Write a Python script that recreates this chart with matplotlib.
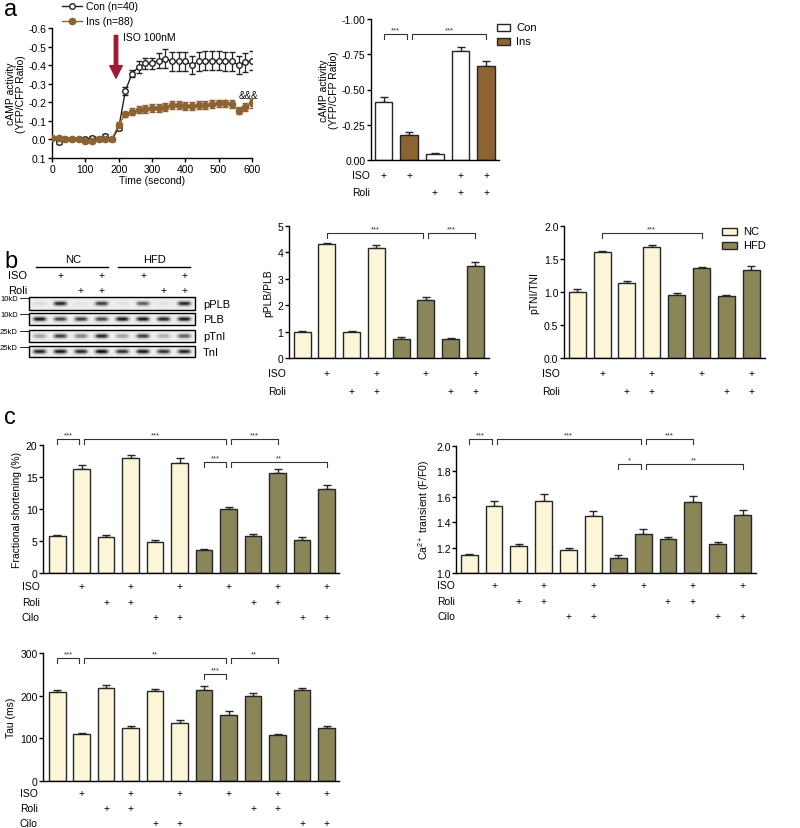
import numpy as np
import matplotlib.pyplot as plt
import matplotlib.transforms as mtransforms
from matplotlib.patches import Rectangle

plt.rcParams['font.family'] = ['Liberation Sans', 'DejaVu Sans']
plt.rcParams['mathtext.default'] = 'regular'
plt.rcParams['font.size'] = 7
plt.rcParams['axes.linewidth'] = 1.0
plt.rcParams['xtick.labelsize'] = 7.5
plt.rcParams['ytick.labelsize'] = 7.5

# ---------------- data ----------------
time_s = [0, 20, 40, 60, 80, 100, 120, 140, 160, 180, 200, 220, 240, 260, 280, 300,
          320, 340, 360, 380, 400, 420, 440, 460, 480, 500, 520, 540, 560, 580, 600]
con_camp = [-0.01, 0.015, -0.005, -0.005, 0.0, 0.0, -0.01, -0.005, -0.02, 0.0, -0.06,
            -0.26, -0.355, -0.39, -0.41, -0.41, -0.425, -0.435, -0.42, -0.42, -0.42,
            -0.40, -0.42, -0.425, -0.425, -0.425, -0.42, -0.42, -0.40, -0.415, -0.425]
con_err = [0.005, 0.01, 0.005, 0.005, 0.005, 0.005, 0.01, 0.01, 0.01, 0.01, 0.01,
           0.02, 0.02, 0.03, 0.03, 0.03, 0.04, 0.05, 0.05, 0.05, 0.05, 0.05, 0.05,
           0.05, 0.05, 0.05, 0.05, 0.05, 0.05, 0.05, 0.05]
ins_camp = [-0.01, -0.01, 0.0, 0.0, -0.005, 0.01, 0.01, 0.0, 0.0, 0.0, -0.08,
            -0.135, -0.15, -0.16, -0.165, -0.17, -0.17, -0.175, -0.185, -0.185, -0.18,
            -0.18, -0.185, -0.185, -0.19, -0.195, -0.195, -0.19, -0.155, -0.175, -0.195]
ins_err = [0.01, 0.01, 0.01, 0.01, 0.01, 0.01, 0.01, 0.01, 0.01, 0.01, 0.015,
           0.015, 0.02, 0.02, 0.02, 0.02, 0.02, 0.02, 0.02, 0.02, 0.02, 0.02, 0.02,
           0.02, 0.02, 0.02, 0.02, 0.02, 0.02, 0.02, 0.025]

ar_groups = ['Con', 'Ins', 'Con', 'Con', 'Ins']
ar_vals = [-0.41, -0.18, -0.04, -0.77, -0.67]
ar_errs = [0.04, 0.02, 0.01, 0.03, 0.03]
ar_iso = [1, 1, 0, 1, 1]
ar_roli = [0, 0, 1, 1, 1]

b_groups = ['NC', 'NC', 'NC', 'NC', 'HFD', 'HFD', 'HFD', 'HFD']
b_iso = [0, 1, 0, 1, 0, 1, 0, 1]
b_roli = [0, 0, 1, 1, 0, 0, 1, 1]
pplb_vals = [1.0, 4.3, 1.0, 4.17, 0.73, 2.2, 0.72, 3.5]
pplb_errs = [0.03, 0.05, 0.03, 0.1, 0.08, 0.1, 0.05, 0.13]
ptni_vals = [1.0, 1.6, 1.13, 1.68, 0.96, 1.36, 0.94, 1.34]
ptni_errs = [0.04, 0.02, 0.04, 0.03, 0.03, 0.02, 0.01, 0.05]

# western blot band darkness per lane
blot_names = ['pPLB', 'PLB', 'pTnI', 'TnI']
blot_markers = ['10kD', '10kD', '25kD', '25kD']
band_pplb = [0.08, 0.9, 0.05, 0.8, 0.05, 0.65, 0.05, 0.9]
band_plb = [0.95, 0.75, 0.8, 0.75, 0.95, 0.95, 0.9, 0.95]
band_ptni = [0.35, 0.8, 0.5, 0.9, 0.35, 0.8, 0.3, 0.65]
band_tni = [0.9, 0.95, 0.9, 1.0, 0.85, 0.95, 0.85, 0.9]

c_groups = ['NC'] * 6 + ['HFD'] * 6
c_iso = [0, 1, 0, 1, 0, 1, 0, 1, 0, 1, 0, 1]
c_roli = [0, 0, 1, 1, 0, 0, 0, 0, 1, 1, 0, 0]
c_cilo = [0, 0, 0, 0, 1, 1, 0, 0, 0, 0, 1, 1]
fs_vals = [5.8, 16.3, 5.6, 18.0, 4.9, 17.2, 3.6, 10.0, 5.8, 15.6, 5.2, 13.2]
fs_errs = [0.15, 0.5, 0.3, 0.4, 0.3, 0.8, 0.1, 0.35, 0.35, 0.6, 0.5, 0.5]
ca_vals = [1.14, 1.53, 1.21, 1.57, 1.18, 1.45, 1.12, 1.31, 1.27, 1.56, 1.23, 1.46]
ca_errs = [0.01, 0.04, 0.015, 0.05, 0.02, 0.035, 0.02, 0.04, 0.015, 0.045, 0.015, 0.035]
tau_vals = [208, 110, 217, 124, 210, 136, 213, 155, 199, 108, 213, 124]
tau_errs = [5, 2, 8, 4, 6, 6, 10, 10, 7, 2, 4, 5]

colors = {'Con': 'white', 'Ins': '#8d6331', 'NC': '#fbf6d8', 'HFD': '#8b8658'}
EDGE = '#262626'

# ---------------- layout helpers (pixel coords) ----------------
W, H = 800, 829
fig = plt.figure(figsize=(W / 100, H / 100), dpi=100)


def px_axes(l, t, r, b):
    return fig.add_axes([l / W, 1 - b / H, (r - l) / W, (b - t) / H])


ov = fig.add_axes([0, 0, 1, 1], zorder=10)
ov.set_xlim(0, W)
ov.set_ylim(H, 0)
ov.axis('off')


def style(ax):
    ax.spines['top'].set_visible(False)
    ax.spines['right'].set_visible(False)
    ax.tick_params(axis='y', direction='out', length=3, width=1, pad=1)


def bar_panel(ax, vals, errs, groups, ylim, yticks, ytl, pad_l, pad_r, base=0.0):
    n = len(vals)
    x = np.arange(n)
    heights = [v - base for v in vals]
    ax.bar(x, heights, bottom=base, width=0.68, color=[colors[g] for g in groups],
           edgecolor=EDGE, linewidth=1.0, zorder=2)
    lo = np.zeros(n)
    if ylim[0] > ylim[1]:
        ax.errorbar(x, vals, yerr=[errs, lo], fmt='none', ecolor=EDGE, capsize=3,
                    elinewidth=1.0, capthick=1.0, zorder=1)
    else:
        ax.errorbar(x, vals, yerr=[lo, errs], fmt='none', ecolor=EDGE, capsize=3,
                    elinewidth=1.0, capthick=1.0, zorder=1)
    ax.set_xlim(-pad_l, n - 1 + pad_r)
    ax.set_ylim(*ylim)
    ax.set_yticks(yticks)
    ax.set_yticklabels(ytl)
    ax.tick_params(axis='x', length=0, labelbottom=False)
    style(ax)


def rows(ax, names, flags, ys, label_x):
    tr = mtransforms.blended_transform_factory(ax.transData, ov.transData)
    for name, fl, y in zip(names, flags, ys):
        ov.text(label_x, y, name, ha='left', va='center', fontsize=7.5)
        for i, f in enumerate(fl):
            if f:
                ax.text(i, y, '+', transform=tr, ha='center', va='center', fontsize=7.5)


def bracket(ax, x1, x2, y, txt, leg=5):
    tr = mtransforms.blended_transform_factory(ax.transData, ov.transData)
    ax.plot([x1, x1, x2, x2], [y + leg, y, y, y + leg], transform=tr, color='#333333',
            lw=0.8, clip_on=False)
    ax.text((x1 + x2) / 2, y - 0.5, txt, transform=tr, ha='center', va='bottom',
            fontsize=5.5, color='#333333')


# ---------------- panel a: time course ----------------
ax1 = px_axes(52, 29, 252, 159)
ax1.errorbar(time_s, con_camp, yerr=con_err, color='#222222', lw=1.0, marker='o',
             ms=4, mfc='white', mec='#222222', mew=1.0, capsize=2.5, elinewidth=0.9,
             zorder=3)
ax1.errorbar(time_s, ins_camp, yerr=ins_err, color='#8d6331', lw=1.0, marker='o',
             ms=4.5, mfc='#8d6331', mec='#8d6331', capsize=2.5, elinewidth=0.9, zorder=4)
ax1.set_xlim(0, 600)
ax1.set_ylim(0.1, -0.6)
ax1.set_xticks([0, 100, 200, 300, 400, 500, 600])
ax1.set_yticks([-0.6, -0.5, -0.4, -0.3, -0.2, -0.1, 0.0, 0.1])
ax1.set_yticklabels(['-0.6', '-0.5', '-0.4', '-0.3', '-0.2', '-0.1', '0.0', '0.1'])
style(ax1)
ax1.tick_params(axis='x', direction='out', length=3, width=1, pad=1)
ax1.set_xlabel('Time (second)', fontsize=7.5, labelpad=1)
ax1.set_ylabel('cAMP activity\n(YFP/CFP Ratio)', fontsize=7.5, labelpad=2, linespacing=1.0)
ax1.annotate('', xy=(192, -0.33), xytext=(192, -0.56),
             arrowprops=dict(facecolor='#9e1b32', edgecolor='#9e1b32', width=2.5,
                             headwidth=9, headlength=9))
ax1.text(212, -0.55, 'ISO 100nM', fontsize=7.5, va='center')
ax1.text(590, -0.24, '&&&', fontsize=7, ha='center', va='center')

# legend of line chart
ov.plot([62, 82], [7, 7], color='#222222', lw=1.0)
ov.plot([72], [7], marker='o', ms=4, mfc='white', mec='#222222', mew=1.0)
ov.text(86, 7, 'Con (n=40)', va='center', fontsize=7.5)
ov.plot([62, 82], [22, 22], color='#8d6331', lw=1.0)
ov.plot([72], [22], marker='o', ms=4.5, mfc='#8d6331', mec='#8d6331')
ov.text(86, 22, 'Ins (n=88)', va='center', fontsize=7.5)

# ---------------- panel a: bar chart ----------------
ax2 = px_axes(371, 20, 499, 161)
bar_panel(ax2, ar_vals, ar_errs, ar_groups, (0, -1.0),
          [-1.0, -0.75, -0.5, -0.25, 0.0], ['-1.00', '-0.75', '-0.50', '-0.25', '0.00'],
          0.49, 0.5)
ax2.set_ylabel('cAMP activity\n(YFP/CFP Ratio)', fontsize=7.5, labelpad=2, linespacing=1.0)
rows(ax2, ['ISO', 'Roli'], [ar_iso, ar_roli], [176, 193], 352)
bracket(ax2, 0, 0.9, 35, '***')
bracket(ax2, 1.1, 4, 35, '***')
for i, g in enumerate(['Con', 'Ins']):
    y = 28 + i * 14
    ov.add_patch(Rectangle((497, y - 3.5), 13, 7, facecolor=colors[g], edgecolor=EDGE, lw=1.0))
    ov.text(516, y, g, va='center', fontsize=8)

# ---------------- panel b: western blot ----------------
bx0, bx1 = 29, 195
strips = [(298, 311), (314, 326), (331, 343), (347, 358)]
bands = [band_pplb, band_plb, band_ptni, band_tni]
lane_w = (bx1 - bx0) / 8
for (yt, yb), dark, name, mk in zip(strips, bands, blot_names, blot_markers):
    xs = np.linspace(bx0, bx1, 200)
    ys = np.linspace(yt, yb, 30)
    X, Y = np.meshgrid(xs, ys)
    img = np.full(X.shape, 0.93)
    yc = (yt + yb) / 2
    for i, d in enumerate(dark):
        xc = bx0 + lane_w * (i + 0.5)
        img -= d * 0.9 * np.exp(-((X - xc) / 6.5) ** 4 - ((Y - yc) / 2.2) ** 2)
    ov.imshow(np.clip(img, 0, 1), cmap='gray', vmin=0, vmax=1, aspect='auto',
              extent=[bx0, bx1, yb, yt], interpolation='bilinear')
    ov.add_patch(Rectangle((bx0, yt), bx1 - bx0, yb - yt, fill=False, edgecolor='black', lw=1.0))
    ov.text(203, yc, name, va='center', fontsize=8)
    ov.text(0, yt + 1, mk, va='center', ha='left', fontsize=5.5)
    ov.plot([20, bx0], [yt + 1, yt + 1], color='black', lw=0.6)
ov.set_xlim(0, W)
ov.set_ylim(H, 0)
ov.text(73, 260, 'NC', ha='center', va='center', fontsize=8)
ov.plot([36, 108], [268, 268], color='black', lw=1.0)
ov.text(155, 260, 'HFD', ha='center', va='center', fontsize=8)
ov.plot([118, 190], [268, 268], color='black', lw=1.0)
ov.text(8, 276, 'ISO', va='center', fontsize=8)
ov.text(8, 291, 'Roli', va='center', fontsize=8)
for i in range(8):
    xc = bx0 + lane_w * (i + 0.5)
    if b_iso[i]:
        ov.text(xc, 276, '+', ha='center', va='center', fontsize=7.5)
    if b_roli[i]:
        ov.text(xc, 291, '+', ha='center', va='center', fontsize=7.5)

# ---------------- panel b: pPLB/PLB ----------------
ax3 = px_axes(289, 227, 489, 359)
bar_panel(ax3, pplb_vals, pplb_errs, b_groups, (0, 5), [0, 1, 2, 3, 4, 5],
          ['0', '1', '2', '3', '4', '5'], 0.53, 0.55)
ax3.set_ylabel('pPLB/PLB', fontsize=7.5, labelpad=3)
rows(ax3, ['ISO', 'Roli'], [b_iso, b_roli], [374, 392], 268)
bracket(ax3, 1, 4.9, 234, '***')
bracket(ax3, 5.1, 7, 234, '***')

# ---------------- panel b: pTNI/TNI ----------------
ax4 = px_axes(564, 227, 765, 359)
bar_panel(ax4, ptni_vals, ptni_errs, b_groups, (0, 2.0), [0, 0.5, 1.0, 1.5, 2.0],
          ['0.0', '0.5', '1.0', '1.5', '2.0'], 0.53, 0.55)
ax4.set_ylabel('pTNI/TNI', fontsize=7.5, labelpad=3)
rows(ax4, ['ISO', 'Roli'], [b_iso, b_roli], [374, 392], 542)
bracket(ax4, 1, 5, 234, '***')
for i, g in enumerate(['NC', 'HFD']):
    y = 232 + i * 14
    ov.add_patch(Rectangle((722, y - 3.5), 15, 7, facecolor=colors[g], edgecolor=EDGE, lw=1.0))
    ov.text(743, y, g, va='center', fontsize=8)

# ---------------- panel c: fractional shortening ----------------
ax5 = px_axes(43, 446, 339, 574)
bar_panel(ax5, fs_vals, fs_errs, c_groups, (0, 20), [0, 5, 10, 15, 20],
          ['0', '5', '10', '15', '20'], 0.58, 0.51)
ax5.set_ylabel('Fractional shortening (%)', fontsize=7.5, labelpad=3)
rows(ax5, ['ISO', 'Roli', 'Cilo'], [c_iso, c_roli, c_cilo], [587, 603, 618], 22)
bracket(ax5, 0, 0.9, 440, '***')
bracket(ax5, 1.1, 6.9, 440, '***')
bracket(ax5, 7.1, 9, 440, '***')
bracket(ax5, 6, 6.9, 463, '***')
bracket(ax5, 7.1, 11, 463, '**')

# ---------------- panel c: Ca transient ----------------
ax6 = px_axes(456, 447, 756, 574)
bar_panel(ax6, ca_vals, ca_errs, c_groups, (1.0, 2.0), [1.0, 1.2, 1.4, 1.6, 1.8, 2.0],
          ['1.0', '1.2', '1.4', '1.6', '1.8', '2.0'], 0.53, 0.54, base=1.0)
ax6.set_ylabel('Ca$^{2+}$ transient (F/F0)', fontsize=7.5, labelpad=3)
rows(ax6, ['ISO', 'Roli', 'Cilo'], [c_iso, c_roli, c_cilo], [586, 602, 617], 437)
bracket(ax6, 0, 0.9, 440, '***')
bracket(ax6, 1.1, 6.9, 440, '***')
bracket(ax6, 7.1, 9, 440, '***')
bracket(ax6, 6, 6.9, 465, '*')
bracket(ax6, 7.1, 11, 465, '**')

# ---------------- panel c: Tau ----------------
ax7 = px_axes(43, 654, 339, 782)
bar_panel(ax7, tau_vals, tau_errs, c_groups, (0, 300), [0, 100, 200, 300],
          ['0', '100', '200', '300'], 0.58, 0.51)
ax7.set_ylabel('Tau (ms)', fontsize=7.5, labelpad=3)
rows(ax7, ['ISO', 'Roli', 'Cilo'], [c_iso, c_roli, c_cilo], [794, 809, 824], 20)
bracket(ax7, 0, 0.9, 659, '***')
bracket(ax7, 1.1, 6.9, 659, '**')
bracket(ax7, 7.1, 9, 659, '**')
bracket(ax7, 6, 6.9, 675, '***')

# panel letters
ov.text(4, 10, 'a', fontsize=17, va='center')
ov.text(4, 262, 'b', fontsize=17, va='center')
ov.text(4, 418, 'c', fontsize=17, va='center')

fig.savefig('out.png', dpi=100)
